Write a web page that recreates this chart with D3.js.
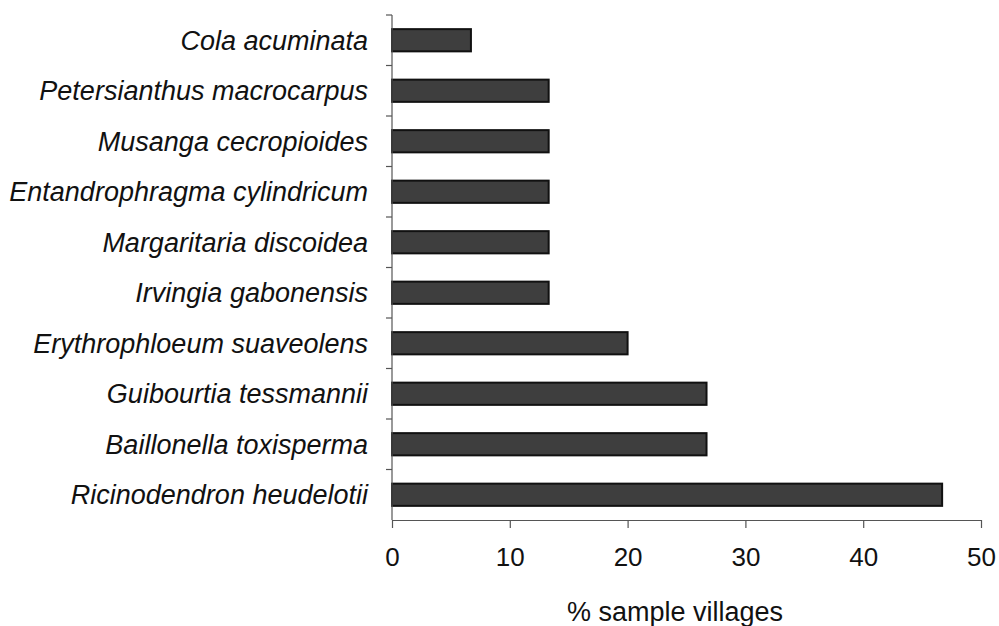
<!DOCTYPE html>
<html>
<head>
<meta charset="utf-8">
<script src="https://cdn.jsdelivr.net/npm/d3@7"></script>
<style>
  html, body { margin: 0; padding: 0; background: #fff; }
  svg { display: block; }
</style>
</head>
<body>
<svg id="chart" width="999" height="626"></svg>
<script>
const categories = [
  "Cola acuminata",
  "Petersianthus macrocarpus",
  "Musanga cecropioides",
  "Entandrophragma cylindricum",
  "Margaritaria discoidea",
  "Irvingia gabonensis",
  "Erythrophloeum suaveolens",
  "Guibourtia tessmannii",
  "Baillonella toxisperma",
  "Ricinodendron heudelotii"
];
const values = [6.7, 13.3, 13.3, 13.3, 13.3, 13.3, 20.0, 26.7, 26.7, 46.7];
const xTicks = [0, 10, 20, 30, 40, 50];
const xTitle = "% sample villages";

const svg = d3.select("#chart");
const margin = { left: 392, right: 18, top: 15, bottom: 106 };
const W = 999, H = 626;

const x = d3.scaleLinear().domain([0, 50]).range([margin.left, W - margin.right]);
const y = d3.scaleBand().domain(categories).range([margin.top, H - margin.bottom])
  .paddingInner(0.56).paddingOuter(0.28);

const axisColor = "#555";
const font = "Liberation Sans, Arial, Helvetica, sans-serif";

// bars
svg.append("g").selectAll("rect")
  .data(categories)
  .join("rect")
  .attr("x", x(0))
  .attr("y", d => y(d))
  .attr("width", (d, i) => x(values[i]) - x(0))
  .attr("height", y.bandwidth())
  .attr("fill", "#3e3e3e")
  .attr("stroke", "#111")
  .attr("stroke-width", 2);

// y axis: ticks between categories
const yAxisG = svg.append("g");
yAxisG.append("line")
  .attr("x1", x(0)).attr("x2", x(0))
  .attr("y1", margin.top).attr("y2", H - margin.bottom)
  .attr("stroke", axisColor).attr("stroke-width", 1.2);
const step = y.step();
const yTop = margin.top;
yAxisG.selectAll("line.tick")
  .data(d3.range(categories.length))
  .join("line")
  .attr("class", "tick")
  .attr("x1", x(0) - 6).attr("x2", x(0))
  .attr("y1", i => yTop + i * step)
  .attr("y2", i => yTop + i * step)
  .attr("stroke", axisColor).attr("stroke-width", 1.2);

yAxisG.selectAll("text")
  .data(categories)
  .join("text")
  .attr("x", x(0) - 24)
  .attr("y", d => y(d) + y.bandwidth() / 2)
  .attr("dy", "0.35em")
  .attr("text-anchor", "end")
  .attr("font-family", font)
  .attr("font-style", "italic")
  .attr("font-size", 27)
  .attr("fill", "#111")
  .text(d => d);

// x axis
const xAxis = d3.axisBottom(x).tickValues(xTicks).tickSize(8).tickPadding(20).tickSizeOuter(0);
const xg = svg.append("g")
  .attr("transform", `translate(0,${H - margin.bottom})`)
  .call(xAxis);
xg.select(".domain").attr("stroke", axisColor).attr("stroke-width", 1.2);
xg.selectAll(".tick line").attr("stroke", axisColor).attr("stroke-width", 1.2);
xg.selectAll(".tick text")
  .attr("font-family", font)
  .attr("font-size", 26)
  .attr("fill", "#111");

svg.append("text")
  .attr("x", 675)
  .attr("y", 621)
  .attr("text-anchor", "middle")
  .attr("font-family", font)
  .attr("font-size", 27)
  .attr("fill", "#111")
  .text(xTitle);
</script>
</body>
</html>
